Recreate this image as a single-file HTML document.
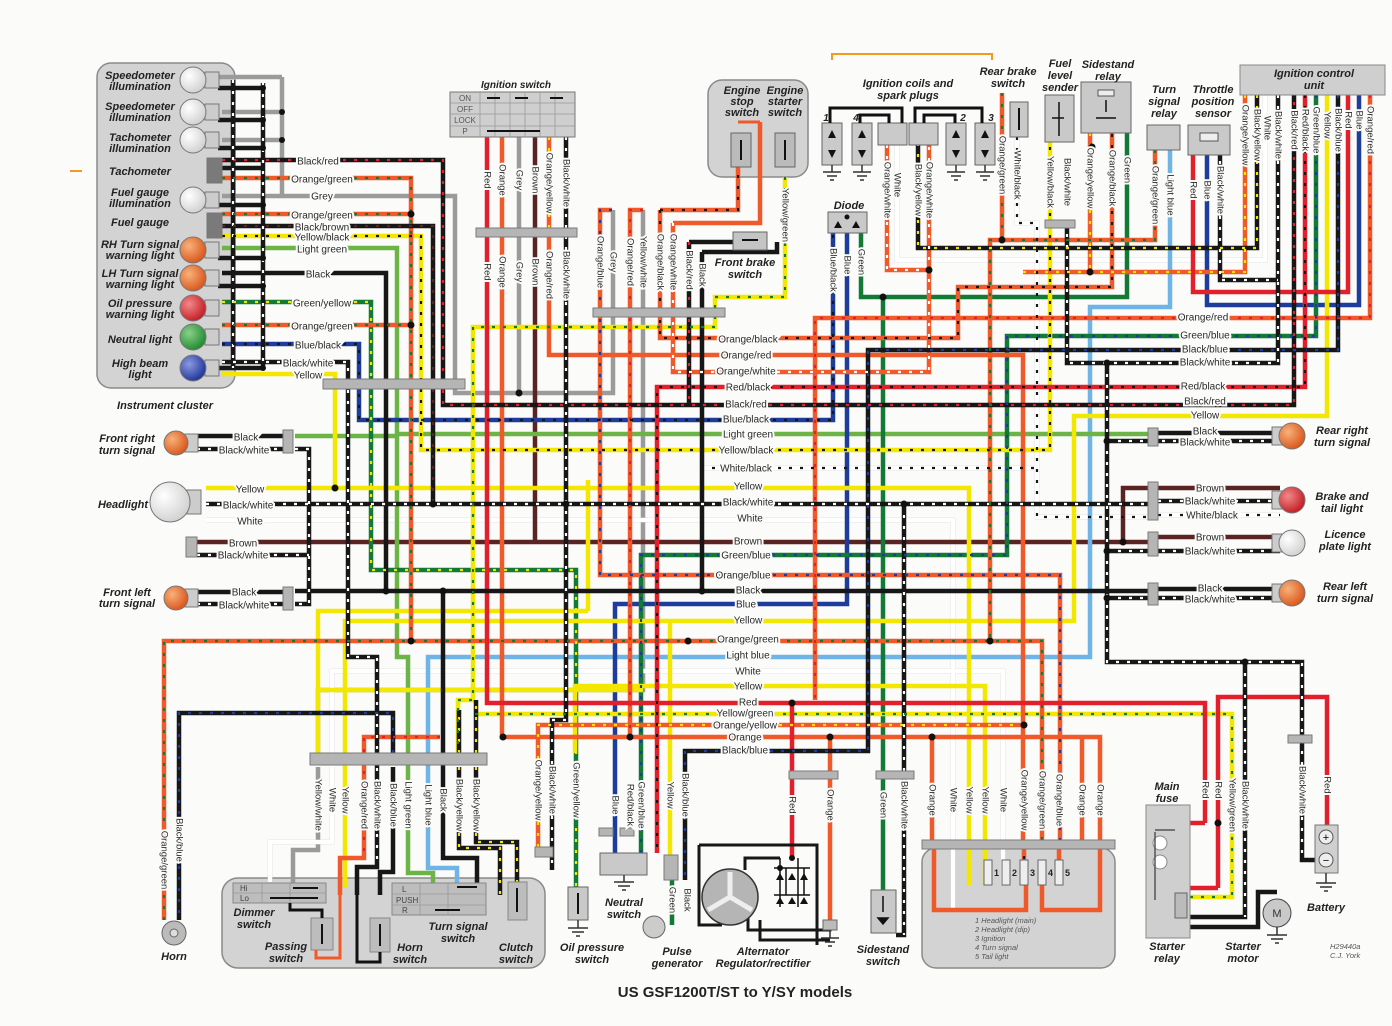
<!DOCTYPE html>
<html><head><meta charset="utf-8"><style>
html,body{margin:0;padding:0;background:#fbfbfa;}
svg{display:block}
svg text{font-family:"Liberation Sans",sans-serif}
.l{font-size:10px;fill:#2a2a2a;stroke:#fbfbfa;stroke-width:4px;paint-order:stroke;text-anchor:middle;dominant-baseline:middle}
.v{font-size:9.5px;fill:#2a2a2a;stroke:#fbfbfa;stroke-width:4px;paint-order:stroke;text-anchor:middle;dominant-baseline:middle}
.c{font-size:11px;font-weight:bold;font-style:italic;fill:#222;text-anchor:middle}
.s{font-size:7.5px;fill:#555;font-style:italic}
.w path{fill:none;stroke-width:4.5;stroke-linejoin:miter}
.t path{fill:none;stroke-width:2.2;stroke-dasharray:3 8}
.K{stroke:#171717}.R{stroke:#e2202b}.O{stroke:#f0592a}.Y{stroke:#f3e700}.G{stroke:#137a36}.LG{stroke:#6cb446}.B{stroke:#1d3c9c}.LB{stroke:#6fb4e6}.GR{stroke:#9b9b9b}.BR{stroke:#5a2422}
.WO{stroke:#9a9a9a;stroke-width:5.5 !important}.WI{stroke:#ffffff;stroke-width:2.6 !important}
.TW{stroke:#ffffff}
.box{fill:#d3d3d3;stroke:#8a8a8a;stroke-width:1.5}
.bar{fill:#b5b5b5;stroke:#7a7a7a;stroke-width:1}
.gnd{fill:none;stroke:#333;stroke-width:1.5}
</style></head><body>
<svg width="1392" height="1026" viewBox="0 0 1392 1026" xmlns="http://www.w3.org/2000/svg">
<defs>
<radialGradient id="gO" cx="35%" cy="35%" r="70%"><stop offset="0" stop-color="#f7b27a"/><stop offset="1" stop-color="#d9541a"/></radialGradient>
<radialGradient id="gR" cx="35%" cy="35%" r="70%"><stop offset="0" stop-color="#f08a8a"/><stop offset="1" stop-color="#c41a22"/></radialGradient>
<radialGradient id="gG" cx="35%" cy="35%" r="70%"><stop offset="0" stop-color="#8ad08a"/><stop offset="1" stop-color="#1f8a2e"/></radialGradient>
<radialGradient id="gB" cx="35%" cy="35%" r="70%"><stop offset="0" stop-color="#8a9ae0"/><stop offset="1" stop-color="#1d3399"/></radialGradient>
<radialGradient id="gW" cx="35%" cy="35%" r="70%"><stop offset="0" stop-color="#ffffff"/><stop offset="1" stop-color="#d0d0d0"/></radialGradient>
</defs>

<!-- orange marks -->
<path d="M70 171H82" stroke="#f39a1e" stroke-width="2"/>
<path d="M832 60V54H992V60" fill="none" stroke="#f39a1e" stroke-width="2"/>

<!-- Instrument cluster -->
<rect x="97" y="63" width="138" height="325" rx="14" class="box"/>

<!-- Switch box bottom -->
<rect x="222" y="878" width="323" height="90" rx="16" class="box"/>
<!-- Fuse box -->
<rect x="922" y="848" width="193" height="120" rx="14" class="box"/>
<!-- engine switch box -->
<rect x="708" y="80" width="100" height="97" rx="14" class="box"/>

<!-- ============ WIRES base ============ -->
<g class="w">
<g class="GR">
<path d="M222 196H455V393H613V210"/><path d="M519 137V393"/><path d="M282 77V196"/><path d="M218 77H282"/><path d="M222 112H282"/><path d="M222 140H282"/>
</g>
<g class="WO">
<path d="M206 520H953V845"/><path d="M1265 95V260H897V145"/><path d="M1017 137V223H1037V517H1152"/><path d="M701 468H1037"/><path d="M1158 515H1280"/>
<path d="M332 753V671H1003V845"/><path d="M332 767V842H270V882"/><path d="M318 753V690H643V210"/><path d="M318 767V850H293V888"/>
<path d="M953 845V910"/><path d="M1003 845V885"/>
</g>
<g class="WI">
<path d="M206 520H953V845"/><path d="M1265 95V260H897V145"/><path d="M1017 137V223H1037V517H1152"/><path d="M701 468H1037"/><path d="M1158 515H1280"/>
<path d="M332 753V671H1003V845"/><path d="M332 767V842H270V882"/><path d="M953 845V910"/><path d="M1003 845V885"/>
</g>
<g class="BR">
<path d="M535 137V542"/><path d="M197 542H1152"/><path d="M1123 542V488H1152"/><path d="M1158 488H1280"/><path d="M1158 537H1280"/>
</g>
<g class="LB"><path d="M1170 150V307H1090V657H428V868H457V885"/></g>
<g class="LG"><path d="M222 248H397V434H1152"/><path d="M295 436H397"/><path d="M397 434V657H408V873H433V885"/></g>
<g class="B">
<path d="M222 344H359V420H833V233"/><path d="M847 233V604H615V853"/><path d="M1207 150V305H1359V95"/>
</g>
<g class="G">
<path d="M222 302H371V570H576V920"/><path d="M1316 95V336H1007V555H641V853"/><path d="M1127 133V297H861V233"/><path d="M883 297V890"/><path d="M672 880V925"/>
</g>
<g class="Y">
<path d="M222 374H335V488"/><path d="M206 488H969V845"/>
<path d="M222 236H421V450H1050V142"/>
<path d="M785 177V297H715V327H473V700H458V753"/><path d="M475 714H1232V897H1190"/>
<path d="M1327 95V416H1074V621H345V888"/>
<path d="M588 611H318V753"/><path d="M588 611V480"/>
<path d="M575 753V686H985V845"/><path d="M670 621V860"/>
<path d="M969 845V885"/><path d="M985 845V885"/>
<path d="M318 690H643"/>
</g>
<g class="O">
<path d="M222 178H411V641"/><path d="M222 214H411"/><path d="M222 325H411"/>
<path d="M164 920V641H1042V845"/>
<path d="M502 137V737H1100V845"/><path d="M440 737H364V858H340V895"/>
<path d="M549 137V355H1023V845"/>
<path d="M612 210H600V575H1060V845"/>
<path d="M643 210H630V737"/>
<path d="M660 210H738V167"/><path d="M660 210V338H958V287H1112V133"/>
<path d="M673 223H760V122"/><path d="M673 223V372H929V145"/>
<path d="M1370 95V318H815V700"/>
<path d="M1245 95V272H1023"/><path d="M1090 133V272"/>
<path d="M1155 150V240H990V641"/><path d="M1002 93V240"/>
<path d="M887 145V270H929"/>
<path d="M538 847V725H1024"/>
<path d="M830 737V920"/><path d="M932 737V845"/><path d="M1082 737V845"/>
<path d="M934 845V910H1026V885"/><path d="M1042 885V910H1100V845"/><path d="M1059 845V885"/><path d="M1024 845V885"/>
</g>
<g class="R">
<path d="M487 137V703H1205V823"/><path d="M1218 888V697H1327V825"/><path d="M1218 888H1190"/><path d="M1205 823H1190"/>
<path d="M1348 95V292H1193V150"/>
<path d="M1305 95V387H657V853"/>
<path d="M792 703V858"/>
</g>
<g class="K">
<path d="M222 160H443V405H1294V95"/>
<path d="M222 226H433V504"/>
<path d="M222 273H386V591"/>
<path d="M222 362H348V657H377V867H357V895"/>
<path d="M566 137V720H552V870"/>
<path d="M702 252V591"/><path d="M702 252H777V242"/><path d="M689 242H733"/><path d="M689 242V405"/>
<path d="M1338 95V350H868V751H685V880"/>
<path d="M1278 95V363H1067V228"/><path d="M1220 150V280H1278"/>
<path d="M1257 95V248H918V145"/>
<path d="M295 591H1152"/><path d="M1158 589H1280"/>
<path d="M206 504H1152"/><path d="M1158 501H1280"/><path d="M904 504V935H896"/>
<path d="M197 436H286"/><path d="M197 449H286"/><path d="M295 449H309V604H295"/><path d="M197 604H286"/><path d="M197 592H286"/><path d="M197 555H309"/>
<path d="M1107 363V662H1302V860H1322"/><path d="M1107 441H1280"/><path d="M1107 551H1280"/><path d="M1107 598H1280"/><path d="M1158 433H1280"/>
<path d="M1245 662V917H1190"/>
<path d="M393 753V713H179V920"/><path d="M393 767V872H380V895"/>
<path d="M443 591V858H477V885"/>
<path d="M459 753V710"/><path d="M476 753V700"/><path d="M459 767V848H500V895"/><path d="M476 767V842H517V905"/>
<path d="M233 80V368"/><path d="M263 83V366"/>
<path d="M218 88H263"/><path d="M218 120H263"/><path d="M218 148H263"/><path d="M222 168H263"/><path d="M218 205H263"/><path d="M218 258H263"/><path d="M218 286H263"/><path d="M218 368H263"/>
<path d="M1190 927H1258V892H1277"/>
</g>
</g>

<!-- ============ tracers ============ -->
<g class="t">
<g class="R"><path d="M222 160H443V405H1294V95"/><path d="M689 242V405"/><path d="M643 210H630V737"/><path d="M1370 95V318H815V700"/><path d="M440 737H364V858"/></g>
<g class="TW">
<path d="M222 362H348V657H377V867"/><path d="M566 137V720H552V870"/><path d="M1278 95V363H1067V228"/><path d="M1220 150V280H1278"/>
<path d="M206 504H1152"/><path d="M1158 501H1280"/><path d="M904 504V935"/><path d="M197 449H286"/><path d="M295 449H309V604H295"/><path d="M197 604H286"/><path d="M197 555H309"/>
<path d="M1107 363V662H1302V860"/><path d="M1107 441H1280"/><path d="M1107 551H1280"/><path d="M1107 598H1280"/><path d="M1245 662V917"/>
<path d="M233 80V368"/><path d="M263 83V366"/><path d="M673 223V372H929V145"/><path d="M887 145V270H929"/>
</g>
<g class="BR"><path d="M222 226H433V504"/></g>
<g class="B"><path d="M1338 95V350H868V751H685V880"/><path d="M393 753V713H179V920"/><path d="M612 210H600V575H1060V845"/><path d="M1316 95V336H1007V555H641V853"/></g>
<g class="Y"><path d="M1257 95V248H918V145"/><path d="M459 753V710"/><path d="M476 753V700"/><path d="M459 767V848H500V895"/><path d="M476 767V842H517V905"/><path d="M222 302H371V570H576V920"/><path d="M1245 95V272H1023"/><path d="M1090 133V272"/><path d="M538 847V725H1024"/><path d="M549 137V232"/></g>
<g class="K"><path d="M222 236H421V450H1050V142"/><path d="M222 344H359V420H833V233"/><path d="M1305 95V387H657V853"/><path d="M660 210H738V167"/><path d="M660 210V338H958V287H1112V133"/><path d="M1017 137V223H1037V517H1152"/><path d="M701 468H1037"/><path d="M1158 515H1280"/><path d="M1024 845V885"/></g>
<g class="G"><path d="M222 178H411V641"/><path d="M222 214H411"/><path d="M222 325H411"/><path d="M164 920V641H1042V845"/><path d="M1155 150V240H990V641"/><path d="M1002 93V240"/><path d="M785 177V297H715V327H473V700H458V753"/><path d="M475 714H1232V897H1190"/></g>
</g>

<!-- junction dots -->
<g fill="#111">
<circle cx="411" cy="214" r="3.5"/><circle cx="411" cy="325" r="3.5"/><circle cx="519" cy="393" r="3.5"/><circle cx="335" cy="488" r="3.5"/>
<circle cx="263" cy="88" r="3"/><circle cx="263" cy="120" r="3"/><circle cx="263" cy="148" r="3"/><circle cx="282" cy="112" r="3"/><circle cx="282" cy="140" r="3"/><circle cx="263" cy="205" r="3"/><circle cx="263" cy="258" r="3"/><circle cx="263" cy="286" r="3"/><circle cx="263" cy="368" r="3"/>
<circle cx="386" cy="591" r="3.5"/><circle cx="443" cy="591" r="3.5"/><circle cx="702" cy="591" r="3.5"/><circle cx="433" cy="504" r="3.5"/><circle cx="566" cy="504" r="3.5"/>
<circle cx="929" cy="270" r="3.5"/><circle cx="1002" cy="240" r="3.5"/><circle cx="1090" cy="272" r="3.5"/><circle cx="883" cy="297" r="3.5"/><circle cx="1107" cy="363" r="3.5"/>
<circle cx="990" cy="641" r="3.5"/><circle cx="688" cy="641" r="3.5"/><circle cx="411" cy="641" r="3.5"/><circle cx="503" cy="737" r="3.5"/><circle cx="630" cy="737" r="3.5"/><circle cx="830" cy="737" r="3.5"/><circle cx="932" cy="737" r="3.5"/><circle cx="792" cy="703" r="3.5"/><circle cx="1245" cy="662" r="3.5"/>
<circle cx="1107" cy="441" r="3.5"/><circle cx="1107" cy="551" r="3.5"/><circle cx="1107" cy="598" r="3.5"/><circle cx="1123" cy="542" r="3.5"/><circle cx="904" cy="504" r="3.5"/><circle cx="1024" cy="725" r="3.5"/>
<circle cx="1092" cy="147" r="3.5"/><circle cx="1218" cy="823" r="3.5"/><circle cx="780" cy="868" r="3"/><circle cx="792" cy="858" r="3"/>
</g>

<!-- ============ connector bars ============ -->
<rect x="323" y="379" width="142" height="10" class="bar"/>
<rect x="476" y="228" width="101" height="9" class="bar"/>
<rect x="593" y="308" width="132" height="9" class="bar"/>
<rect x="310" y="753" width="177" height="12" class="bar"/>
<rect x="922" y="840" width="193" height="9" class="bar"/>
<rect x="789" y="771" width="49" height="8" class="bar"/>
<rect x="876" y="771" width="38" height="8" class="bar"/>
<rect x="1045" y="220" width="30" height="8" class="bar"/>
<rect x="1288" y="735" width="24" height="8" class="bar"/>
<rect x="283" y="430" width="10" height="23" class="bar"/><rect x="283" y="587" width="10" height="23" class="bar"/><rect x="186" y="537" width="11" height="20" class="bar"/>
<rect x="1148" y="428" width="10" height="18" class="bar"/><rect x="1148" y="482" width="10" height="38" class="bar"/><rect x="1148" y="532" width="10" height="24" class="bar"/><rect x="1148" y="583" width="10" height="22" class="bar"/>
<rect x="535" y="847" width="18" height="10" class="bar"/><rect x="664" y="855" width="14" height="25" class="bar"/>
<rect x="599" y="828" width="14" height="8" class="bar"/><rect x="620" y="828" width="14" height="8" class="bar"/>

<!-- ============ Instrument cluster bulbs ============ -->
<g stroke="#777" stroke-width="1">
<rect x="205" y="72" width="14" height="16" fill="#ccc"/><circle cx="193" cy="80" r="13" fill="url(#gW)"/>
<rect x="205" y="104" width="14" height="16" fill="#ccc"/><circle cx="193" cy="112" r="13" fill="url(#gW)"/>
<rect x="205" y="132" width="14" height="16" fill="#ccc"/><circle cx="193" cy="140" r="13" fill="url(#gW)"/>
<rect x="207" y="158" width="15" height="25" fill="#7a7a7a"/>
<rect x="205" y="192" width="14" height="16" fill="#ccc"/><circle cx="193" cy="200" r="13" fill="url(#gW)"/>
<rect x="207" y="213" width="15" height="25" fill="#7a7a7a"/>
<rect x="205" y="242" width="14" height="16" fill="#ccc"/><circle cx="193" cy="250" r="13" fill="url(#gO)"/>
<rect x="205" y="270" width="14" height="16" fill="#ccc"/><circle cx="193" cy="278" r="13" fill="url(#gO)"/>
<rect x="205" y="300" width="14" height="16" fill="#ccc"/><circle cx="193" cy="308" r="13" fill="url(#gR)"/>
<rect x="205" y="329" width="14" height="16" fill="#ccc"/><circle cx="193" cy="337" r="13" fill="url(#gG)"/>
<rect x="205" y="360" width="14" height="16" fill="#ccc"/><circle cx="193" cy="368" r="13" fill="url(#gB)"/>
</g>
<g class="c">
<text x="140" y="79">Speedometer</text><text x="140" y="90">illumination</text>
<text x="140" y="110">Speedometer</text><text x="140" y="121">illumination</text>
<text x="140" y="141">Tachometer</text><text x="140" y="152">illumination</text>
<text x="140" y="175">Tachometer</text>
<text x="140" y="196">Fuel gauge</text><text x="140" y="207">illumination</text>
<text x="140" y="226">Fuel gauge</text>
<text x="140" y="248">RH Turn signal</text><text x="140" y="259">warning light</text>
<text x="140" y="277">LH Turn signal</text><text x="140" y="288">warning light</text>
<text x="140" y="307">Oil pressure</text><text x="140" y="318">warning light</text>
<text x="140" y="343">Neutral light</text>
<text x="140" y="367">High beam</text><text x="140" y="378">light</text>
<text x="165" y="409">Instrument cluster</text>
</g>

<!-- Left lights -->
<g stroke="#777" stroke-width="1">
<rect x="185" y="434" width="13" height="18" fill="#ccc"/><circle cx="176" cy="443" r="12" fill="url(#gO)"/>
<rect x="187" y="490" width="14" height="24" fill="#ccc"/><circle cx="170" cy="502" r="20" fill="url(#gW)"/>
<rect x="185" y="589" width="13" height="18" fill="#ccc"/><circle cx="176" cy="598" r="12" fill="url(#gO)"/>
</g>
<g class="c">
<text x="127" y="442">Front right</text><text x="127" y="454">turn signal</text>
<text x="123" y="508">Headlight</text>
<text x="127" y="596">Front left</text><text x="127" y="607">turn signal</text>
</g>

<!-- Right lights -->
<g stroke="#777" stroke-width="1">
<rect x="1272" y="427" width="13" height="18" fill="#ccc"/><circle cx="1292" cy="436" r="13" fill="url(#gO)"/>
<rect x="1272" y="491" width="13" height="18" fill="#ccc"/><circle cx="1292" cy="500" r="13" fill="url(#gR)"/>
<rect x="1272" y="534" width="13" height="18" fill="#ccc"/><circle cx="1292" cy="543" r="13" fill="url(#gW)"/>
<rect x="1272" y="584" width="13" height="18" fill="#ccc"/><circle cx="1292" cy="593" r="13" fill="url(#gO)"/>
</g>
<g class="c">
<text x="1342" y="434">Rear right</text><text x="1342" y="446">turn signal</text>
<text x="1342" y="500">Brake and</text><text x="1342" y="512">tail light</text>
<text x="1345" y="538">Licence</text><text x="1345" y="550">plate light</text>
<text x="1345" y="590">Rear left</text><text x="1345" y="602">turn signal</text>
</g>

<!-- Ignition switch -->
<rect x="450" y="92" width="125" height="45" fill="#cfcfcf" stroke="#777"/>
<g stroke="#999" stroke-width="0.8">
<path d="M450 103H575M450 114H575M450 126H575M480 92V137M495 92V137M510 92V137M525 92V137M540 92V137M555 92V137"/>
</g>
<path d="M487 98H500M515 98H528M550 98H563M487 131H540" stroke="#111" stroke-width="2"/>
<g font-size="8" fill="#555" text-anchor="middle" font-family="Liberation Sans,sans-serif">
<text x="465" y="101">ON</text><text x="465" y="112">OFF</text><text x="465" y="123">LOCK</text><text x="465" y="134">P</text>
</g>
<text x="516" y="88" class="c" style="font-size:10px">Ignition switch</text>

<!-- Engine switches -->
<rect x="731" y="133" width="20" height="34" fill="#bbb" stroke="#666"/><rect x="775" y="133" width="20" height="34" fill="#bbb" stroke="#666"/>
<path d="M741 140V160M785 140V160" stroke="#111" stroke-width="2"/>
<path d="M738 122H760" stroke="#f0592a" stroke-width="3"/>
<g class="c"><text x="742" y="94">Engine</text><text x="742" y="105">stop</text><text x="742" y="116">switch</text>
<text x="785" y="94">Engine</text><text x="785" y="105">starter</text><text x="785" y="116">switch</text></g>

<!-- Front brake switch -->
<rect x="733" y="232" width="34" height="18" fill="#c4c4c4" stroke="#666"/>
<path d="M742 240H758" stroke="#111" stroke-width="2"/>
<g class="c"><text x="745" y="266">Front brake</text><text x="745" y="278">switch</text></g>

<!-- Ignition coils -->
<g fill="#cacaca" stroke="#666">
<rect x="822" y="123" width="20" height="42"/><rect x="852" y="123" width="20" height="42"/>
<rect x="878" y="123" width="29" height="22"/><rect x="909" y="123" width="29" height="22"/>
<rect x="946" y="123" width="20" height="42"/><rect x="975" y="123" width="20" height="42"/>
</g>
<g fill="none" stroke="#111" stroke-width="3">
<path d="M830 123V108H902V123"/><path d="M860 123V115H889V123"/><path d="M915 123V108H982V123"/><path d="M924 123V115H955V123"/>
</g>
<g fill="#111"><path d="M828 138l4-8 4 8z"/><path d="M828 150l4 8 4-8z"/><path d="M858 138l4-8 4 8z"/><path d="M858 150l4 8 4-8z"/><path d="M952 138l4-8 4 8z"/><path d="M952 150l4 8 4-8z"/><path d="M981 138l4-8 4 8z"/><path d="M981 150l4 8 4-8z"/></g>
<g class="gnd"><path d="M832 165v7m-9 0h18m-14 4h10m-7 4h4"/><path d="M862 165v7m-9 0h18m-14 4h10m-7 4h4"/><path d="M956 165v7m-9 0h18m-14 4h10m-7 4h4"/><path d="M985 165v7m-9 0h18m-14 4h10m-7 4h4"/></g>
<g class="c" style="font-size:10px"><text x="826" y="121">1</text><text x="856" y="121">4</text><text x="963" y="121">2</text><text x="991" y="121">3</text></g>
<g class="c"><text x="908" y="87">Ignition coils and</text><text x="908" y="99">spark plugs</text></g>

<!-- Diode -->
<rect x="828" y="212" width="39" height="21" fill="#c9c9c9" stroke="#666"/>
<path d="M834 228l4-7 4 7zM852 228l4-7 4 7z" fill="#111"/><circle cx="847" cy="217" r="2.5" fill="#111"/>
<text x="849" y="209" class="c">Diode</text>

<!-- Rear brake switch -->
<rect x="1010" y="102" width="18" height="35" fill="#c9c9c9" stroke="#666"/><path d="M1019 108V130" stroke="#111" stroke-width="2"/>
<g class="c"><text x="1008" y="75">Rear brake</text><text x="1008" y="87">switch</text></g>
<!-- Fuel level sender -->
<rect x="1045" y="95" width="29" height="47" fill="#c9c9c9" stroke="#666"/><path d="M1059 102V136M1052 118h12" stroke="#111" stroke-width="1.5"/>
<g class="c"><text x="1060" y="67">Fuel</text><text x="1060" y="79">level</text><text x="1060" y="91">sender</text></g>
<!-- Sidestand relay -->
<rect x="1081" y="82" width="50" height="51" fill="#c9c9c9" stroke="#666"/><rect x="1098" y="90" width="16" height="6" fill="#eee" stroke="#555"/><path d="M1106 100V112M1096 118h20" stroke="#111" stroke-width="1.5"/>
<g class="c"><text x="1108" y="68">Sidestand</text><text x="1108" y="80">relay</text></g>
<!-- Turn signal relay -->
<rect x="1147" y="125" width="33" height="25" fill="#c9c9c9" stroke="#666"/>
<g class="c"><text x="1164" y="93">Turn</text><text x="1164" y="105">signal</text><text x="1164" y="117">relay</text></g>
<!-- Throttle position sensor -->
<rect x="1188" y="125" width="42" height="30" fill="#c9c9c9" stroke="#666"/><rect x="1200" y="133" width="18" height="8" fill="#eee" stroke="#555"/>
<g class="c"><text x="1213" y="93">Throttle</text><text x="1213" y="105">position</text><text x="1213" y="117">sensor</text></g>
<!-- ICU -->
<rect x="1240" y="65" width="145" height="30" fill="#cfcfcf" stroke="#888"/>
<g class="c"><text x="1314" y="77">Ignition control</text><text x="1314" y="89">unit</text></g>

<!-- Switch box internals -->
<rect x="233" y="883" width="93" height="20" fill="#bdbdbd" stroke="#888"/>
<path d="M233 893H326M262 883V903M290 883V903" stroke="#999" stroke-width="0.8"/>
<path d="M293 888H318M270 898H318" stroke="#111" stroke-width="2"/>
<g font-size="8" fill="#444" font-family="Liberation Sans,sans-serif"><text x="240" y="891">Hi</text><text x="240" y="901">Lo</text></g>
<rect x="311" y="918" width="22" height="32" fill="#bdbdbd" stroke="#888"/><path d="M322 924V944" stroke="#111" stroke-width="2"/>
<path d="M290 903V910H322V918" stroke="#111" stroke-width="3" fill="none"/>
<rect x="370" y="918" width="20" height="34" fill="#bdbdbd" stroke="#888"/><path d="M380 924V946" stroke="#111" stroke-width="2"/>
<path d="M357 895V962H380V952" stroke="#111" stroke-width="3" fill="none"/>
<path d="M340 895V958H316V950" stroke="#f0592a" stroke-width="3" fill="none"/>
<rect x="392" y="883" width="94" height="32" fill="#bdbdbd" stroke="#888"/>
<path d="M392 894H486M392 905H486M420 883V915M448 883V915" stroke="#999" stroke-width="0.8"/>
<path d="M457 887H477M435 910H460" stroke="#111" stroke-width="2"/>
<g font-size="8" fill="#444" font-family="Liberation Sans,sans-serif"><text x="402" y="892">L</text><text x="396" y="903">PUSH</text><text x="402" y="913">R</text></g>
<rect x="508" y="882" width="19" height="38" fill="#bdbdbd" stroke="#888"/><path d="M517 888V912" stroke="#111" stroke-width="2"/>
<g class="c">
<text x="254" y="916">Dimmer</text><text x="254" y="928">switch</text>
<text x="286" y="950">Passing</text><text x="286" y="962">switch</text>
<text x="410" y="951">Horn</text><text x="410" y="963">switch</text>
<text x="458" y="930">Turn signal</text><text x="458" y="942">switch</text>
<text x="516" y="951">Clutch</text><text x="516" y="963">switch</text>
<text x="174" y="960">Horn</text>
</g>
<circle cx="174" cy="933" r="12" fill="#bbb" stroke="#666"/><circle cx="174" cy="933" r="4" fill="#ddd" stroke="#666"/>

<!-- Oil pressure switch -->
<rect x="568" y="887" width="20" height="33" fill="#c9c9c9" stroke="#666"/><path d="M578 893V914" stroke="#111" stroke-width="2"/>
<g class="gnd"><path d="M578 920v8m-10 0h20m-16 4h12m-8 4h4"/></g>
<g class="c"><text x="592" y="951">Oil pressure</text><text x="592" y="963">switch</text></g>
<!-- Neutral switch -->
<rect x="600" y="853" width="47" height="22" fill="#c9c9c9" stroke="#666"/>
<g class="gnd"><path d="M624 875v7m-10 0h20m-16 4h12m-8 4h4"/></g>
<g class="c"><text x="624" y="906">Neutral</text><text x="624" y="918">switch</text></g>
<!-- Pulse generator -->
<circle cx="654" cy="927" r="11" fill="#ccc" stroke="#666"/>
<g class="c"><text x="677" y="955">Pulse</text><text x="677" y="967">generator</text></g>
<!-- Alternator -->
<path d="M699 845H817V945M699 845V925H722" fill="none" stroke="#171717" stroke-width="3"/>
<path d="M745 870V858H780M748 910V930H830V920M760 920V940H830" fill="none" stroke="#171717" stroke-width="3"/>
<circle cx="730" cy="897" r="28" fill="#b5b5b5" stroke="#333" stroke-width="1.5"/>
<path d="M730 897V872M730 897L708 910M730 897L752 910" stroke="#eee" stroke-width="5"/>
<path d="M774 868H810M774 895H810M780 858V907M798 858V907M786 868V895M804 868V895" stroke="#111" stroke-width="1.5" fill="none"/>
<g fill="#111"><path d="M776 880l4-7 4 7zM788 880l4-7 4 7zM800 880l4-7 4 7zM776 904l4-7 4 7zM788 904l4-7 4 7zM800 904l4-7 4 7z"/></g>
<rect x="823" y="920" width="14" height="10" fill="#bbb" stroke="#666"/>
<g class="gnd"><path d="M830 930v8m-9 0h18m-14 4h10m-7 4h4"/></g>
<g class="c"><text x="763" y="955">Alternator</text><text x="763" y="967">Regulator/rectifier</text></g>
<!-- Sidestand switch -->
<rect x="871" y="890" width="25" height="43" fill="#c9c9c9" stroke="#666"/><path d="M883 896V912M878 918l5 6 5-6z" stroke="#111" stroke-width="1.5" fill="#111"/>
<g class="c"><text x="883" y="953">Sidestand</text><text x="883" y="965">switch</text></g>
<!-- Fuses -->
<g fill="#eee" stroke="#666"><rect x="984" y="860" width="8" height="25"/><rect x="1002" y="860" width="8" height="25"/><rect x="1020" y="860" width="8" height="25"/><rect x="1038" y="860" width="8" height="25"/><rect x="1055" y="860" width="8" height="25"/></g>
<g font-size="9" font-weight="bold" fill="#222" font-family="Liberation Sans,sans-serif"><text x="994" y="876">1</text><text x="1012" y="876">2</text><text x="1030" y="876">3</text><text x="1048" y="876">4</text><text x="1065" y="876">5</text></g>
<g class="s"><text x="975" y="923">1  Headlight (main)</text><text x="975" y="932">2  Headlight (dip)</text><text x="975" y="941">3  Ignition</text><text x="975" y="950">4  Turn signal</text><text x="975" y="959">5  Tail light</text></g>
<!-- Main fuse / starter relay -->
<rect x="1146" y="805" width="44" height="133" fill="#cfcfcf" stroke="#888"/>
<circle cx="1160" cy="843" r="7" fill="#fff" stroke="#888"/><circle cx="1160" cy="862" r="7" fill="#fff" stroke="#888"/>
<rect x="1175" y="893" width="12" height="25" fill="#bbb" stroke="#666"/>
<path d="M1155 832V900M1155 830H1175" stroke="#555" stroke-width="1.5" fill="none"/>
<g class="c"><text x="1167" y="790">Main</text><text x="1167" y="802">fuse</text><text x="1167" y="950">Starter</text><text x="1167" y="962">relay</text></g>
<!-- Starter motor -->
<circle cx="1277" cy="913" r="14" fill="#c9c9c9" stroke="#444"/><text x="1277" y="917" font-size="11" text-anchor="middle" fill="#333" font-family="Liberation Sans,sans-serif">M</text>
<g class="gnd"><path d="M1277 927v8m-10 0h20m-16 4h12m-8 4h4"/></g>
<g class="c"><text x="1243" y="950">Starter</text><text x="1243" y="962">motor</text></g>
<!-- Battery -->
<rect x="1315" y="825" width="23" height="48" fill="#cfcfcf" stroke="#777"/>
<circle cx="1326" cy="837" r="7" fill="#eee" stroke="#555"/><circle cx="1326" cy="860" r="7" fill="#eee" stroke="#555"/>
<text x="1326" y="841" font-size="11" text-anchor="middle" font-family="Liberation Sans,sans-serif">+</text><text x="1326" y="864" font-size="11" text-anchor="middle" font-family="Liberation Sans,sans-serif">−</text>
<g class="gnd"><path d="M1326 873v10m-10 0h20m-16 4h12m-8 4h4"/></g>
<text x="1326" y="911" class="c">Battery</text>
<g class="s"><text x="1330" y="949">H29440a</text><text x="1330" y="958">C.J. York</text></g>

<!-- ============ wire labels ============ -->
<g class="l">
<text x="318" y="162">Black/red</text><text x="322" y="180">Orange/green</text><text x="322" y="197">Grey</text><text x="322" y="216">Orange/green</text><text x="322" y="228">Black/brown</text><text x="322" y="238">Yellow/black</text><text x="322" y="250">Light green</text><text x="318" y="275">Black</text><text x="322" y="304">Green/yellow</text><text x="322" y="327">Orange/green</text><text x="318" y="346">Blue/black</text><text x="308" y="364">Black/white</text><text x="308" y="376">Yellow</text>
<text x="246" y="438">Black</text><text x="244" y="451">Black/white</text><text x="250" y="490">Yellow</text><text x="248" y="506">Black/white</text><text x="250" y="522">White</text><text x="243" y="544">Brown</text><text x="243" y="556">Black/white</text><text x="244" y="593">Black</text><text x="244" y="606">Black/white</text>
<text x="748" y="340">Orange/black</text><text x="746" y="356">Orange/red</text><text x="746" y="372">Orange/white</text><text x="748" y="388">Red/black</text><text x="746" y="405">Black/red</text><text x="746" y="420">Blue/black</text><text x="748" y="435">Light green</text><text x="746" y="451">Yellow/black</text><text x="746" y="469">White/black</text><text x="748" y="487">Yellow</text><text x="748" y="503">Black/white</text><text x="750" y="519">White</text><text x="748" y="542">Brown</text><text x="746" y="556">Green/blue</text><text x="743" y="576">Orange/blue</text><text x="748" y="591">Black</text><text x="746" y="605">Blue</text><text x="748" y="621">Yellow</text><text x="748" y="640">Orange/green</text><text x="748" y="656">Light blue</text><text x="748" y="672">White</text><text x="748" y="687">Yellow</text><text x="748" y="703">Red</text><text x="745" y="714">Yellow/green</text><text x="745" y="726">Orange/yellow</text><text x="745" y="738">Orange</text><text x="745" y="751">Black/blue</text>
<text x="1203" y="318">Orange/red</text><text x="1205" y="336">Green/blue</text><text x="1205" y="350">Black/blue</text><text x="1205" y="363">Black/white</text><text x="1203" y="387">Red/black</text><text x="1205" y="402">Black/red</text><text x="1205" y="416">Yellow</text><text x="1205" y="432">Black</text><text x="1205" y="443">Black/white</text>
<text x="1210" y="489">Brown</text><text x="1210" y="502">Black/white</text><text x="1212" y="516">White/black</text><text x="1210" y="538">Brown</text><text x="1210" y="552">Black/white</text><text x="1210" y="589">Black</text><text x="1210" y="600">Black/white</text>
</g>

<!-- vertical labels -->
<g class="v">
<text transform="translate(487,180) rotate(90)">Red</text><text transform="translate(502,180) rotate(90)">Orange</text><text transform="translate(519,180) rotate(90)">Grey</text><text transform="translate(535,180) rotate(90)">Brown</text><text transform="translate(549,183) rotate(90)">Orange/yellow</text><text transform="translate(566,183) rotate(90)">Black/white</text>
<text transform="translate(487,272) rotate(90)">Red</text><text transform="translate(502,272) rotate(90)">Orange</text><text transform="translate(519,272) rotate(90)">Grey</text><text transform="translate(535,272) rotate(90)">Brown</text><text transform="translate(549,275) rotate(90)">Orange/red</text><text transform="translate(566,275) rotate(90)">Black/white</text>
<text transform="translate(600,262) rotate(90)">Orange/blue</text><text transform="translate(613,262) rotate(90)">Grey</text><text transform="translate(630,262) rotate(90)">Orange/red</text><text transform="translate(643,262) rotate(90)">Yellow/white</text><text transform="translate(660,262) rotate(90)">Orange/black</text><text transform="translate(673,262) rotate(90)">Orange/white</text><text transform="translate(689,270) rotate(90)">Black/red</text><text transform="translate(702,275) rotate(90)">Black</text>
<text transform="translate(785,215) rotate(90)">Yellow/green</text>
<text transform="translate(833,270) rotate(90)">Blue/black</text><text transform="translate(847,265) rotate(90)">Blue</text><text transform="translate(861,262) rotate(90)">Green</text>
<text transform="translate(887,190) rotate(90)">Orange/white</text><text transform="translate(897,185) rotate(90)">White</text><text transform="translate(918,190) rotate(90)">Black/yellow</text><text transform="translate(929,190) rotate(90)">Orange/white</text>
<text transform="translate(1002,165) rotate(90)">Orange/green</text><text transform="translate(1017,175) rotate(90)">White/black</text>
<text transform="translate(1050,182) rotate(90)">Yellow/black</text><text transform="translate(1067,182) rotate(90)">Black/white</text>
<text transform="translate(1090,178) rotate(90)">Orange/yellow</text><text transform="translate(1112,178) rotate(90)">Orange/black</text><text transform="translate(1127,170) rotate(90)">Green</text>
<text transform="translate(1155,195) rotate(90)">Orange/green</text><text transform="translate(1170,195) rotate(90)">Light blue</text>
<text transform="translate(1193,190) rotate(90)">Red</text><text transform="translate(1207,190) rotate(90)">Blue</text><text transform="translate(1220,190) rotate(90)">Black/white</text>
<text transform="translate(1245,135) rotate(90)">Orange/yellow</text><text transform="translate(1257,135) rotate(90)">Black/yellow</text><text transform="translate(1267,128) rotate(90)">White</text><text transform="translate(1278,135) rotate(90)">Black/white</text><text transform="translate(1294,130) rotate(90)">Black/red</text><text transform="translate(1305,130) rotate(90)">Red/black</text><text transform="translate(1316,130) rotate(90)">Green/blue</text><text transform="translate(1327,125) rotate(90)">Yellow</text><text transform="translate(1338,130) rotate(90)">Black/blue</text><text transform="translate(1348,120) rotate(90)">Red</text><text transform="translate(1359,120) rotate(90)">Blue</text><text transform="translate(1370,130) rotate(90)">Orange/red</text>
<text transform="translate(318,805) rotate(90)">Yellow/white</text><text transform="translate(332,800) rotate(90)">White</text><text transform="translate(345,800) rotate(90)">Yellow</text><text transform="translate(364,805) rotate(90)">Orange/red</text><text transform="translate(377,805) rotate(90)">Black/white</text><text transform="translate(393,805) rotate(90)">Black/blue</text><text transform="translate(408,805) rotate(90)">Light green</text><text transform="translate(428,805) rotate(90)">Light blue</text><text transform="translate(443,800) rotate(90)">Black</text><text transform="translate(459,805) rotate(90)">Black/yellow</text><text transform="translate(476,805) rotate(90)">Black/yellow</text>
<text transform="translate(164,860) rotate(90)">Orange/green</text><text transform="translate(179,840) rotate(90)">Black/blue</text>
<text transform="translate(538,790) rotate(90)">Orange/yellow</text><text transform="translate(552,790) rotate(90)">Black/white</text><text transform="translate(576,790) rotate(90)">Green/yellow</text>
<text transform="translate(615,805) rotate(90)">Blue</text><text transform="translate(630,805) rotate(90)">Red/black</text><text transform="translate(641,805) rotate(90)">Green/blue</text>
<text transform="translate(670,795) rotate(90)">Yellow</text><text transform="translate(685,795) rotate(90)">Black/blue</text><text transform="translate(672,900) rotate(90)">Green</text><text transform="translate(687,900) rotate(90)">Black</text>
<text transform="translate(792,805) rotate(90)">Red</text><text transform="translate(830,805) rotate(90)">Orange</text><text transform="translate(883,805) rotate(90)">Green</text><text transform="translate(904,805) rotate(90)">Black/white</text>
<text transform="translate(932,800) rotate(90)">Orange</text><text transform="translate(953,800) rotate(90)">White</text><text transform="translate(969,800) rotate(90)">Yellow</text><text transform="translate(985,800) rotate(90)">Yellow</text><text transform="translate(1003,800) rotate(90)">White</text><text transform="translate(1024,800) rotate(90)">Orange/yellow</text><text transform="translate(1042,800) rotate(90)">Orange/green</text><text transform="translate(1059,800) rotate(90)">Orange/blue</text><text transform="translate(1082,800) rotate(90)">Orange</text><text transform="translate(1100,800) rotate(90)">Orange</text>
<text transform="translate(1205,790) rotate(90)">Red</text><text transform="translate(1218,790) rotate(90)">Red</text><text transform="translate(1232,805) rotate(90)">Yellow/green</text><text transform="translate(1245,805) rotate(90)">Black/white</text><text transform="translate(1302,790) rotate(90)">Black/white</text><text transform="translate(1327,785) rotate(90)">Red</text>
</g>

<text x="735" y="997" text-anchor="middle" font-size="15" font-weight="bold" fill="#222" font-family="Liberation Sans,sans-serif">US GSF1200T/ST to Y/SY models</text>
</svg>
</body></html>
